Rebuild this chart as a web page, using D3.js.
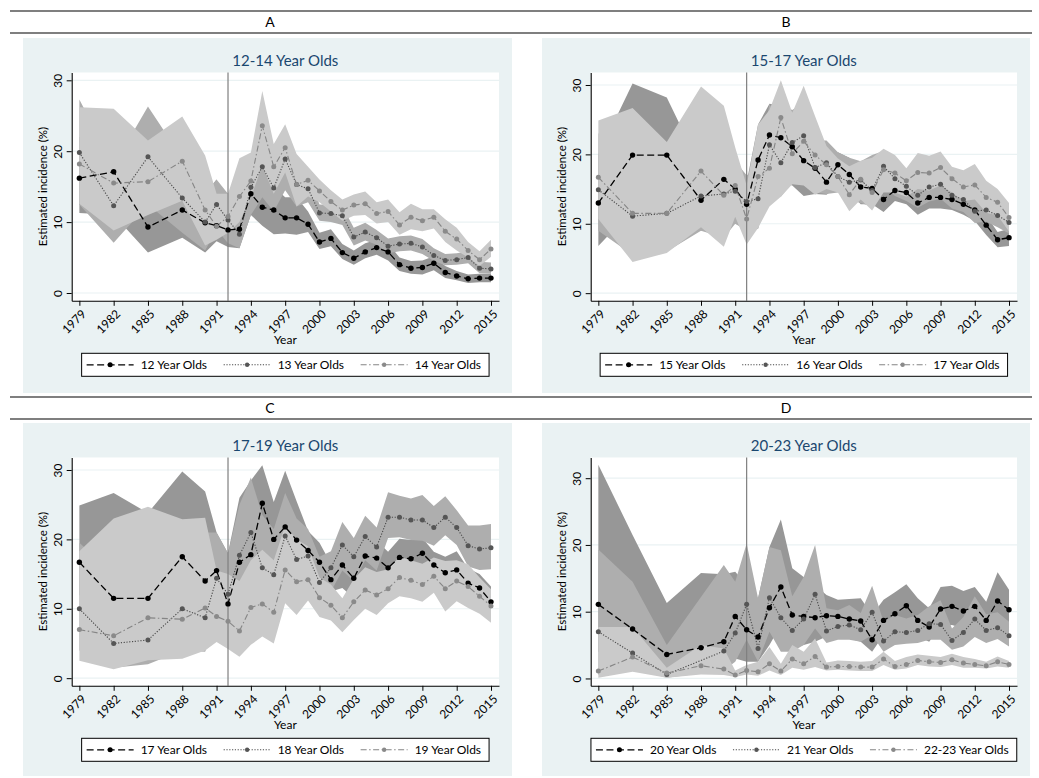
<!DOCTYPE html>
<html>
<head>
<meta charset="utf-8">
<script src="https://cdn.jsdelivr.net/npm/d3@7"></script>
<style>
  body { margin: 0; background: #fff; }
  text { font-family: Lato, "Open Sans", sans-serif; }
</style>
</head>
<body>
<script>
// years surveyed
var years = [1979,1982,1985,1988,1990,1991,1992,1993,1994,1995,1996,1997,1998,1999,2000,
             2001,2002,2003,2004,2005,2006,2007,2008,2009,2010,2011,2012,2013,2014,2015];
var xTicks = [1979,1982,1985,1988,1991,1994,1997,2000,2003,2006,2009,2012,2015];
var yTicks = [0,10,20,30];
var breakYear = 1992;

var letters = ["A","B","C","D"];
var titles = ["12-14 Year Olds","15-17 Year Olds","17-19 Year Olds","20-23 Year Olds"];
var names = [["12 Year Olds","13 Year Olds","14 Year Olds"],
             ["15 Year Olds","16 Year Olds","17 Year Olds"],
             ["17 Year Olds","18 Year Olds","19 Year Olds"],
             ["20 Year Olds","21 Year Olds","22-23 Year Olds"]];

// panel A
var a12 = [16.2,17.1,9.3,11.7,9.9,9.5,8.9,9.0,14.0,12.1,11.7,10.6,10.6,9.7,7.2,7.7,5.7,4.9,5.8,6.4,5.8,4.0,3.5,3.6,4.2,2.9,2.4,2.0,2.1,2.1];
var a12lo = [11.3,11,5.7,7.8,5.7,7.3,6.5,6.3,11,9.5,8.3,8.4,8.2,8.6,6.2,6.6,4.8,4.0,4.9,5.4,4.6,3.1,2.7,2.6,3.2,2.1,1.8,1.4,1.5,1.5];
var a12hi = [22,23,14,16,14,16,11.5,12,17,14.8,15,13.5,13.5,11.5,8.5,9.0,6.9,6.0,7.0,7.5,7.0,5.0,4.5,4.6,5.2,3.8,3.1,2.6,2.7,2.7];
var a13 = [19.8,12.3,19.2,13.4,10.0,12.5,10.3,8.3,14.9,17.8,14.8,18.9,15.3,14.7,11.3,11.2,10.9,7.9,8.6,7.8,6.6,6.9,7.0,6.5,5.3,4.6,4.7,5.0,3.5,3.4];
var a13lo = [12.5,7.1,12.5,8.5,6,9,7,6.3,11,13.5,11.5,14.5,12.2,12.8,10.2,10.0,9.6,6.7,7.4,6.8,5.6,5.9,6.0,5.5,4.5,3.9,4.0,4.2,2.8,2.7];
var a13hi = [27.3,18,26.3,19,14,16,14,12.5,19,22,18,23,18.5,16.8,12.5,12.4,12.2,9.2,9.9,8.9,7.7,8.0,8.1,7.6,6.3,5.5,5.6,5.9,4.4,4.3];
var a14 = [18.2,15.5,15.7,18.6,11.7,9.4,10.8,13.6,15.8,23.6,17.8,20.5,15.3,15.9,14.4,12.9,11.7,12.4,12.6,11.2,11.5,9.6,10.7,10.2,10.7,8.7,7.6,6.0,4.7,6.2];
var a14lo = [12.6,8.8,11,13,6.7,7.5,8.5,10,13.5,18,14,17,12.2,13.6,12.8,11.5,10.2,10.9,11.0,9.8,10.0,8.2,9.0,8.7,9.1,7.2,6.0,5.0,3.8,5.1];
var a14hi = [26.2,26,21.5,24.9,19.4,14,14,19,19.8,28.5,21,23.8,19.6,17.8,16.0,14.5,13.2,13.9,14.3,12.8,13.2,11.4,12.6,11.8,11.8,10.4,9.2,7.2,5.9,7.5];

// panel B
var b15 = [13.0,19.9,19.9,13.4,16.4,15.0,12.8,19.2,22.8,22.4,21.1,19.1,18.0,16.0,18.5,17.1,15.3,15.1,13.5,14.8,14.5,13.0,13.8,13.8,13.5,12.8,12.0,9.8,7.7,8.0];
var b15lo = [6.8,12,12,9,10,10,9.5,9.3,17,16,15.5,14,14.3,14.2,15.5,14.5,12.8,12.8,11.7,13.3,12.8,11.3,12.2,12.2,12.0,11.3,10.4,8.4,6.6,6.8];
var b15hi = [20,30.2,28.2,18,22,20,16,24.3,27.3,27,26.4,24,22,18,20.3,19.5,18,17.5,15.2,16.5,16.2,14.6,15.4,15.3,15.0,14.3,13.5,11.2,8.8,9.3];
var b16 = [14.9,11.1,11.5,14.0,14.3,14.7,13.2,13.6,21.4,18.8,21.7,22.7,18.1,18.8,16.8,16.0,16.3,14.8,18.3,16.5,15.4,14.1,15.3,15.7,14.1,13.5,11.8,12.0,11.2,10.2];
var b16lo = [9,5.5,6,9,8,10,9,9.3,15,13.9,16,17,14.5,14.3,14.5,13.5,13,12.5,15.5,14.0,13.3,12.3,13.2,13.6,12.2,11.7,10.1,10.3,9.5,8.6];
var b16hi = [23,24,20,20,20,19,17,18,27.3,24,26.4,27.5,22,22,20.3,19.5,19,19.9,20.5,19,17.5,16,17.5,17.8,16,15.3,13.6,13.8,13,11.8];
var b17 = [16.7,11.5,11.5,17.6,14.1,15.5,10.7,16.8,18.0,25.3,20.1,21.9,19.9,18.5,16.8,14.2,16.4,14.5,17.8,17.3,16.2,17.4,17.3,18.1,16.5,15.3,15.6,13.8,13.1,10.9];
var b17lo = [10.7,4.5,5.8,9.5,6.7,11,7.0,9.4,12.5,13.9,15.7,15.5,14.2,15,14.5,11.8,13.5,11.9,14.5,14.5,13.9,15.0,14.8,15.5,14.5,13.3,13.5,11.6,11.2,8.9];
var b17hi = [24.9,26.7,21.8,29.8,27,21,15.5,24.3,26.4,30.7,26,29.9,25.5,21.2,19.4,18.3,19.1,19.5,20.8,19.9,18,20.2,19.8,20.4,18.2,17.7,18.6,16.2,15.0,13];

// panel C
var c17 = [16.7,11.5,11.5,17.5,14.0,15.5,10.7,16.7,17.8,25.2,20.0,21.8,19.9,18.4,16.7,14.2,16.3,14.4,17.6,17.3,15.9,17.4,17.2,18.0,16.3,15.2,15.6,13.7,13.0,11.0];
var c17lo = [12,8,7,10,9,11,7,12,13,20,15.5,17,16,15.3,14,12.5,13,11.5,14.5,15,13.8,15.4,15.2,16.0,14.5,13.3,13.8,11.8,10.8,9.0];
var c17hi = [24.9,26.7,23.8,29.8,26.9,21,18,26,28.5,30.7,25.4,29.9,25.5,21.2,19.5,16.5,19.5,17.5,20.5,19.8,18.2,20.1,19.9,20.2,18.2,17.5,18.3,15.8,15.0,13.2];
var c18 = [10.0,5.0,5.5,10.0,8.7,14.4,12.1,17.7,21.0,15.9,14.9,20.5,17.1,17.6,13.8,15.9,19.2,17.5,20.4,18.9,23.2,23.2,22.8,22.8,21.7,23.2,21.7,19.1,18.6,18.8];
var c18lo = [4,1.5,2,4,3.8,8,6,11,14,10,9.5,14,12,13.5,10,12.5,15.5,14,17,15.5,20.2,20.3,19.9,19.8,19.1,20.6,19.2,16.1,15.6,15.7];
var c18hi = [19.5,15,16,22,21,21,18,25,28.9,23.5,21.5,26.7,23,21.5,17.5,18.3,22.5,20.2,23.4,21.7,26.8,26.3,25.9,26.4,24.8,26.2,24.2,22.0,22.0,22.2];
var c19 = [7.0,6.1,8.7,8.5,10.1,8.9,8.2,6.8,10.2,10.7,9.5,15.6,13.9,14.2,11.6,10.5,8.7,11.0,12.7,12.0,12.9,14.5,14.1,13.5,14.7,12.9,14.0,13.2,11.8,10.4];
var c19lo = [2.5,1.3,2.6,2.8,4,5.2,4.2,3.1,4.8,6,5,10.8,9.1,11.2,8.8,8.3,6.6,8.4,10.0,9.1,10.8,11.8,11.5,11.0,12.3,9.6,11.1,10.1,9.3,8.0];
var c19hi = [18.3,23,24.7,22.9,23.1,15.5,15,14,17,18.5,17,22,20,19,14.5,13.5,11.5,14.3,16,15.3,15.7,17.5,17,16.5,17.4,16.9,17.0,16.4,14.5,12.8];

// panel D (21 year olds not reported for 1988)
var d20 = [11.1,7.4,3.6,4.6,5.5,9.3,7.3,6.2,10.6,13.7,9.5,9.3,9.1,9.4,9.3,8.9,8.6,5.8,8.7,9.7,10.9,8.7,7.7,10.4,10.8,10.1,10.8,8.7,11.6,10.3];
var d20lo = [4,3,1,1,1.5,3,2.5,2.5,5,8,4.5,5,5.5,6.3,6.5,6.0,5.5,4.0,6.5,7.0,8.5,6.3,5.5,7.8,8.0,7.5,8.0,6.2,8.0,7.5];
var d20hi = [32,21.5,11.3,15.8,15.6,16,14,12,19.7,23.8,16.5,15.2,14,12.5,11.8,11.9,12.0,9.5,11.8,12.9,14.1,12,10.5,13.7,13.9,13.1,13.7,11.5,15.9,13.3];
var d21 = [7.0,3.8,0.6,null,4.1,6.8,11.1,4.5,12.1,9.1,7.2,8.9,12.6,7.1,7.8,8.0,7.3,9.9,5.6,7.0,6.9,7.2,8.2,8.1,5.7,6.9,8.9,7.2,7.6,6.4];
var d21lo = [0.5,1.5,0.1,null,1.2,2.5,5.8,2.5,7,4,4,5,7.5,5.3,5.8,5.8,5.5,6.5,4,5.0,5.2,5.3,5.8,5.8,4.3,4.8,6.2,5.3,5.9,4.8];
var d21hi = [19.3,14.5,5,null,17,14.5,20.2,12,19.7,19.2,12.3,15.2,20,10.5,10.2,11,9.8,13.9,8.5,9.5,9.0,9.5,10.8,11.7,7.5,9.2,12.3,9.6,9.9,8.5];
var d22 = [1.1,3.2,0.8,1.9,1.4,0.5,1.2,1.0,2.2,1.1,2.9,2.2,3.3,1.7,1.8,1.8,1.7,1.7,2.9,1.8,2.1,2.7,2.5,2.4,2.8,2.3,2.1,1.9,2.5,2.1];
var d22lo = [0.1,1.0,0.1,0.6,0.5,0.2,0.6,0.4,1.2,0.5,1.6,1.3,1.7,1.2,1.3,1.2,1.1,1.1,2.0,1.3,1.5,2.0,1.8,1.7,2.0,1.6,1.6,1.5,1.8,1.6];
var d22hi = [7.7,7.7,1.6,5.0,4.5,1.2,2.0,2.5,4.7,2.2,5.0,4.0,6.0,2.4,2.7,2.6,2.5,2.6,4.0,2.6,3.2,3.6,3.4,3.2,3.7,3.2,2.9,2.5,3.3,2.6];

var panelSeries = [
  [[a12,a12lo,a12hi],[a13,a13lo,a13hi],[a14,a14lo,a14hi]],
  [[b15,b15lo,b15hi],[b16,b16lo,b16hi],[b17,b17lo,b17hi]],
  [[c17,c17lo,c17hi],[c18,c18lo,c18hi],[c19,c19lo,c19hi]],
  [[d20,d20lo,d20hi],[d21,d21lo,d21hi],[d22,d22lo,d22hi]]
];

// styles for the three series in each panel
var bandFill = ["#979797","#aeaeae","#cacaca"];
var lineColor = ["#000000","#4a4a4a","#858585"];
var dotColor = ["#000000","#555555","#8a8a8a"];
var dashes = ["7,3.5","1.2,1.6","6,2.5,1.5,2.5"];

var W = 1039, H = 778;
var svg = d3.select("body").append("svg").attr("width", W).attr("height", H);

// header rules and panel letters
[11, 33, 397, 419].forEach(function (y) {
  svg.append("line").attr("x1", 10).attr("x2", 1032).attr("y1", y).attr("y2", y)
    .attr("stroke", "#000").attr("stroke-width", 1.2);
});

var cols = [{ x: 23, w: 489, cx: 270 }, { x: 542, w: 488, cx: 786 }];
var rows = [{ y: 38, h: 355, ly: 27 }, { y: 423, h: 353, ly: 413 }];

letters.forEach(function (L, i) {
  var c = cols[i % 2], r = rows[Math.floor(i / 2)];
  svg.append("text").attr("x", c.cx).attr("y", r.ly).attr("text-anchor", "middle")
    .style("font-size", "14px").attr("fill", "#000").text(L);
});

var x0 = 1978.33, x1 = 2015.7;

letters.forEach(function (L, i) {
  var c = cols[i % 2], r = rows[Math.floor(i / 2)];
  var series = panelSeries[i];

  var g = svg.append("g");
  g.append("rect").attr("x", c.x).attr("y", r.y).attr("width", c.w).attr("height", r.h)
    .attr("fill", "#eaf2f3");

  var left = c.x + 48.7, right = c.x + c.w - 13;
  var top = r.y + 34.5, bottom = top + 228.3;

  var maxHi = d3.max(series, function (s) { return d3.max(s[2]); });
  var x = d3.scaleLinear().domain([x0, x1]).range([left, right]);
  var y = d3.scaleLinear().domain([-1.1, Math.max(30, maxHi) + 1.1]).range([bottom, top]);

  g.append("rect").attr("x", left).attr("y", top).attr("width", right - left)
    .attr("height", bottom - top).attr("fill", "#fff");

  // gridlines
  g.selectAll(".grid").data(yTicks).enter().append("line")
    .attr("x1", left).attr("x2", right)
    .attr("y1", function (d) { return y(d); }).attr("y2", function (d) { return y(d); })
    .attr("stroke", "#eaf2f3").attr("stroke-width", 1.2);

  var rowsData = series.map(function (s) {
    return years.map(function (yr, k) {
      return { yr: yr, v: s[0][k], lo: s[1][k], hi: s[2][k] };
    }).filter(function (d) { return d.v != null; });
  });

  var area = d3.area()
    .x(function (d) { return x(d.yr); })
    .y0(function (d) { return y(d.lo); })
    .y1(function (d) { return y(d.hi); });

  rowsData.forEach(function (rd, j) {
    g.append("path").datum(rd).attr("d", area).attr("fill", bandFill[j]);
  });

  // reform year
  g.append("line").attr("x1", x(breakYear)).attr("x2", x(breakYear))
    .attr("y1", top).attr("y2", bottom)
    .attr("stroke", "#7f7f7f").attr("stroke-width", 1.2);

  var line = d3.line()
    .x(function (d) { return x(d.yr); })
    .y(function (d) { return y(d.v); });

  rowsData.forEach(function (rd, j) {
    g.append("path").datum(rd).attr("d", line).attr("fill", "none")
      .attr("stroke", lineColor[j]).attr("stroke-width", j === 0 ? 1.3 : 1.1)
      .attr("stroke-dasharray", dashes[j]);
  });
  rowsData.forEach(function (rd, j) {
    g.selectAll(".dot" + j).data(rd).enter().append("circle")
      .attr("cx", function (d) { return x(d.yr); })
      .attr("cy", function (d) { return y(d.v); })
      .attr("r", j === 0 ? 2.7 : 2.5)
      .attr("fill", dotColor[j]);
  });

  // axes
  var yAxis = g.append("g").attr("transform", "translate(" + left + ",0)")
    .call(d3.axisLeft(y).tickValues(yTicks).tickSize(5).tickSizeOuter(0));
  yAxis.selectAll("text")
    .attr("x", 0).attr("y", 0).attr("dy", 0)
    .attr("text-anchor", "middle")
    .attr("transform", "translate(-10,0) rotate(-90)")
    .style("font-size", "12px").attr("fill", "#000");

  var xAxis = g.append("g").attr("transform", "translate(0," + bottom + ")")
    .call(d3.axisBottom(x).tickValues(xTicks).tickFormat(d3.format("d")).tickSize(5).tickSizeOuter(0));
  xAxis.selectAll("text")
    .attr("x", 0).attr("y", 0).attr("dy", "0.35em")
    .attr("text-anchor", "end")
    .attr("transform", "translate(4,11) rotate(-45)")
    .style("font-size", "12px").attr("fill", "#000");

  [yAxis, xAxis].forEach(function (a) {
    a.select(".domain").attr("stroke", "#000").attr("stroke-width", 1.1);
    a.selectAll(".tick line").attr("stroke", "#000");
  });

  // titles
  var mid = (left + right) / 2;
  g.append("text").attr("x", mid).attr("y", top - 6.5).attr("text-anchor", "middle")
    .style("font-size", "15px").attr("fill", "#1a476f").text(titles[i]);
  g.append("text").attr("transform", "translate(" + (left - 25) + "," + ((top + bottom) / 2) + ") rotate(-90)")
    .attr("text-anchor", "middle").style("font-size", "11.5px").attr("fill", "#000")
    .text("Estimated incidence (%)");
  g.append("text").attr("x", mid).attr("y", bottom + 43).attr("text-anchor", "middle")
    .style("font-size", "12px").attr("fill", "#000").text("Year");

  // legend
  var leg = g.append("g");
  var box = leg.append("rect").attr("y", bottom + 52.5).attr("height", 23)
    .attr("fill", "#fff").attr("stroke", "#000").attr("stroke-width", 1);
  var ly = bottom + 52.5 + 11.5;
  var offs = [5, 142, 279];
  var lastText;
  names[i].forEach(function (nm, j) {
    var sx = offs[j];
    leg.append("line").attr("x1", sx).attr("x2", sx + 47).attr("y1", ly).attr("y2", ly)
      .attr("stroke", lineColor[j]).attr("stroke-width", j === 0 ? 1.3 : 1.1)
      .attr("stroke-dasharray", dashes[j]);
    leg.append("circle").attr("cx", sx + 23.5).attr("cy", ly).attr("r", j === 0 ? 2.5 : 2.2)
      .attr("fill", dotColor[j]);
    lastText = leg.append("text").attr("x", sx + 54).attr("y", ly + 4.2)
      .style("font-size", "12px").attr("fill", "#000").text(nm);
  });
  var bw = offs[2] + 54 + lastText.node().getComputedTextLength() + 8;
  var bx = mid - bw / 2;
  box.attr("x", 0).attr("width", bw);
  leg.attr("transform", "translate(" + bx + ",0)");
});
</script>
</body>
</html>
